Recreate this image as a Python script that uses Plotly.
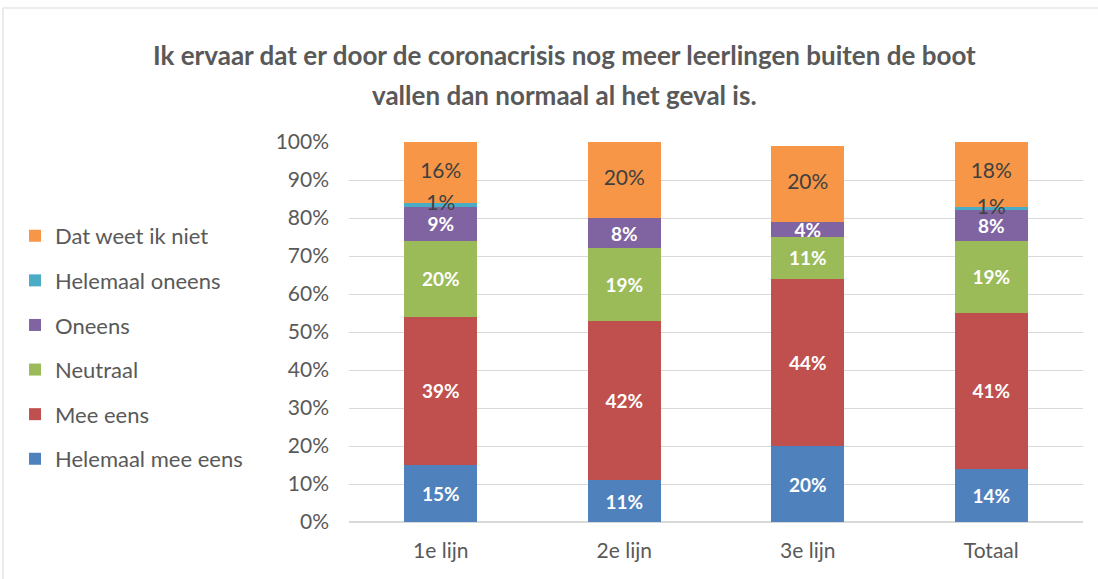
import plotly.graph_objects as go

categories = ["1e lijn", "2e lijn", "3e lijn", "Totaal"]
series_names = ["Helemaal mee eens", "Mee eens", "Neutraal", "Oneens", "Helemaal oneens", "Dat weet ik niet"]
helemaal_mee_eens = [15, 11, 20, 14]
mee_eens = [39, 42, 44, 41]
neutraal = [20, 19, 11, 19]
oneens = [9, 8, 4, 8]
helemaal_oneens = [1, 0, 0, 1]
dat_weet_ik_niet = [16, 20, 20, 18]

values = [helemaal_mee_eens, mee_eens, neutraal, oneens, helemaal_oneens, dat_weet_ik_niet]
colors = ["#4F81BD", "#C0504D", "#9BBB59", "#8064A2", "#4BACC6", "#F79646"]
label_colors = ["white", "white", "white", "white", "#404040", "#404040"]
label_bold = [True, True, True, True, False, False]

FONT = "Lato, Open Sans, sans-serif"
fig = go.Figure()
n = len(series_names)
base = [0] * len(categories)
for i, (name, vals) in enumerate(zip(series_names, values)):
    txt = [f"{v}%" if v > 0 else "" for v in vals]
    if label_bold[i]:
        txt = [f"<b>{t}</b>" if t else "" for t in txt]
    separate = i >= 4
    fig.add_trace(go.Bar(
        x=categories, y=vals, name=name,
        marker=dict(color=colors[i], line=dict(width=0)),
        text=None if separate else txt, textposition="inside", insidetextanchor="middle",
        textangle=0, constraintext="none",
        textfont=dict(color=label_colors[i], size=19 if label_bold[i] else 21, family=FONT),
        legendgroup=name, legendrank=n - i, hoverinfo="skip",
    ))
    if separate:
        mids = [b + v / 2 for b, v in zip(base, vals)]
        fig.add_trace(go.Scatter(
            x=categories, y=mids, mode="text", text=txt, showlegend=False,
            textfont=dict(color=label_colors[i], size=21, family=FONT),
            hoverinfo="skip", cliponaxis=False,
        ))
    base = [b + v for b, v in zip(base, vals)]

fig.update_layout(
    barmode="stack", bargap=0.6,
    width=1098, height=579,
    margin=dict(l=349, r=15, t=142, b=57),
    paper_bgcolor="white", plot_bgcolor="white",
    font=dict(family=FONT, color="#595959", size=21),
    showlegend=True,
    legend=dict(x=-0.455, y=0.808, xanchor="left", yanchor="top",
                traceorder="grouped", tracegroupgap=13,
                font=dict(size=22, color="#595959", family=FONT),
                itemwidth=30, bgcolor="rgba(0,0,0,0)"),
    xaxis=dict(showline=False, ticks="", tickfont=dict(size=21, color="#595959"),
               ticklabelstandoff=14),
    yaxis=dict(range=[0, 100], dtick=10, ticksuffix="%", showgrid=True,
               gridcolor="#D9D9D9", gridwidth=1, zeroline=True, zerolinecolor="#D9D9D9",
               tickfont=dict(size=21, color="#595959"), ticklabelstandoff=19),
)

fig.add_annotation(text="<b>Ik ervaar dat er door de coronacrisis nog meer leerlingen buiten de boot</b>",
                   xref="paper", yref="paper", x=0.293, y=1.229, showarrow=False,
                   font=dict(size=26, color="#595959", family=FONT), xanchor="center", yanchor="middle")
fig.add_annotation(text="<b>vallen dan normaal al het geval is.</b>",
                   xref="paper", yref="paper", x=0.293, y=1.1237, showarrow=False,
                   font=dict(size=26, color="#595959", family=FONT), xanchor="center", yanchor="middle")

fig.add_shape(type="rect", xref="paper", yref="paper", x0=-0.4714, x1=1.025, y0=-0.2, y1=1.3526,
              line=dict(color="#D9D9D9", width=1), fillcolor="rgba(0,0,0,0)", layer="below")

fig.write_html("out.html", config={"displayModeBar": False},
               post_script="document.body.style.margin='0';")
